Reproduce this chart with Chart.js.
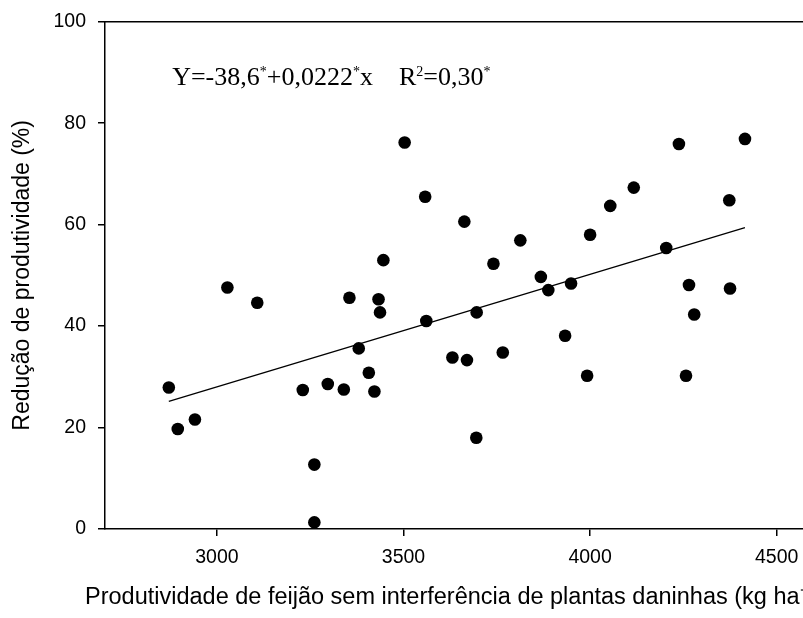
<!DOCTYPE html>
<html>
<head>
<meta charset="utf-8">
<script src="https://cdn.jsdelivr.net/npm/chart.js@4.4.1/dist/chart.umd.min.js"></script>
<style>
  html, body { margin: 0; padding: 0; background: #fff; overflow: hidden; }
  #wrap { position: relative; width: 830px; height: 618px; }
</style>
</head>
<body>
<div id="wrap"><canvas id="c"></canvas></div>
<script>
// ---- data ----
const productivity = [2871, 2895, 2941, 3028, 3108, 3230, 3261, 3261, 3297, 3340,
  3355, 3380, 3407, 3422, 3433, 3437, 3446, 3503, 3558, 3561,
  3631, 3663, 3670, 3695, 3696, 3741, 3766, 3813, 3868, 3888,
  3933, 3949, 3992, 4000, 4054, 4117, 4204, 4238, 4257, 4265,
  4279, 4373, 4375, 4415];
const reduction = [27.9, 19.7, 21.6, 47.6, 44.6, 27.4, 12.7, 1.3, 28.6, 27.5,
  45.6, 35.6, 30.8, 27.1, 45.3, 42.7, 53.0, 76.2, 65.5, 41.0,
  33.8, 60.6, 33.3, 18.0, 42.7, 52.3, 34.8, 56.9, 49.7, 47.1,
  38.1, 48.4, 30.2, 58.0, 63.7, 67.3, 55.4, 75.9, 30.2, 48.1,
  42.3, 64.8, 47.4, 76.9];
const intercept = -38.6;
const slope = 0.0222;
const xTicks = [3000, 3500, 4000, 4500];
const yTicks = [0, 20, 40, 60, 80, 100];
const xTitle = 'Produtividade de feijão sem interferência de plantas daninhas (kg ha⁻¹)';
const yTitle = 'Redução de produtividade (%)';
// equation pieces: [text, superscript?]
const equationParts = [['Y=-38,6', false], ['*', true], ['+0,0222', false], ['*', true],
  ['x', false], ['    ', false], ['R', false], ['2', true], ['=0,30', false], ['*', true]];

// ---- derived ----
const points = productivity.map((x, i) => ({ x: x, y: reduction[i] }));
const xMin = Math.min(...productivity), xMax = Math.max(...productivity);
const fitLine = [xMin, xMax].map(x => ({ x: x, y: intercept + slope * x }));

const sans = '"Liberation Sans", Arial, sans-serif';
const plain = v => String(v);

const boxPlugin = {
  id: 'box',
  afterDraw(chart) {
    const { ctx, chartArea: a } = chart;
    ctx.save();
    ctx.strokeStyle = '#000';
    ctx.lineWidth = 1.5;
    ctx.beginPath();
    ctx.moveTo(a.left, a.top);
    ctx.lineTo(a.right, a.top);
    ctx.lineTo(a.right, a.bottom);
    ctx.stroke();
    ctx.restore();
  }
};

// x-axis title drawn without the width limit Chart.js applies (it runs past the right edge)
const xTitlePlugin = {
  id: 'xTitle',
  afterDraw(chart) {
    const { ctx, chartArea: a } = chart;
    ctx.save();
    ctx.fillStyle = '#000';
    ctx.font = '23.5px ' + sans;
    ctx.textAlign = 'left';
    ctx.textBaseline = 'middle';
    ctx.fillText(xTitle, a.left - 20, a.bottom + 69);
    ctx.restore();
  }
};

const equationPlugin = {
  id: 'equation',
  afterDraw(chart) {
    const { ctx } = chart;
    const xs = chart.scales.x, ys = chart.scales.y;
    let x = xs.getPixelForValue(2880);
    const baseY = ys.getPixelForValue(87.6);
    ctx.save();
    ctx.fillStyle = '#000';
    ctx.textBaseline = 'alphabetic';
    ctx.textAlign = 'left';
    for (const [t, sup] of equationParts) {
      ctx.font = sup ? '14px "Liberation Serif", "Times New Roman", serif'
                     : '26px "Liberation Serif", "Times New Roman", serif';
      ctx.fillText(t, x, sup ? baseY - 9 : baseY);
      x += ctx.measureText(t).width;
    }
    ctx.restore();
  }
};

new Chart(document.getElementById('c'), {
  type: 'scatter',
  data: {
    datasets: [
      {
        type: 'scatter',
        data: points,
        backgroundColor: '#000',
        borderWidth: 0,
        pointRadius: 6.3,
        pointHoverRadius: 6.3
      },
      {
        type: 'line',
        data: fitLine,
        borderColor: '#000',
        borderWidth: 1.3,
        pointRadius: 0,
        fill: false,
        tension: 0
      }
    ]
  },
  options: {
    responsive: true,
    maintainAspectRatio: false,
    animation: false,
    layout: { padding: { top: 19, right: 16, bottom: 0, left: 0 } },
    plugins: { legend: { display: false }, tooltip: { enabled: false } },
    scales: {
      x: {
        type: 'linear',
        min: 2700,
        max: 4600,
        afterBuildTicks(scale) { scale.ticks = xTicks.map(v => ({ value: v })); },
        afterFit(scale) { scale.height = 89; },
        grid: { display: true, drawOnChartArea: false, drawTicks: true, tickLength: 7, color: '#000', lineWidth: 1.5 },
        border: { display: true, color: '#000', width: 1.5 },
        ticks: { color: '#000', font: { family: sans, size: 19.5, lineHeight: 1 }, padding: 12, maxRotation: 0, callback: plain },
        title: { display: false }
      },
      y: {
        type: 'linear',
        min: 0,
        max: 100,
        afterBuildTicks(scale) { scale.ticks = yTicks.map(v => ({ value: v })); },
        afterFit(scale) { scale.width = 105; },
        grid: { display: true, drawOnChartArea: false, drawTicks: true, tickLength: 7, color: '#000', lineWidth: 1.5 },
        border: { display: true, color: '#000', width: 1.5 },
        ticks: { color: '#000', font: { family: sans, size: 19.5, lineHeight: 1 }, padding: 12, callback: plain },
        title: { display: true, text: yTitle, color: '#000', font: { family: sans, size: 23 }, padding: { top: 9, bottom: 0 } }
      }
    }
  },
  plugins: [boxPlugin, xTitlePlugin, equationPlugin]
});
</script>
</body>
</html>
